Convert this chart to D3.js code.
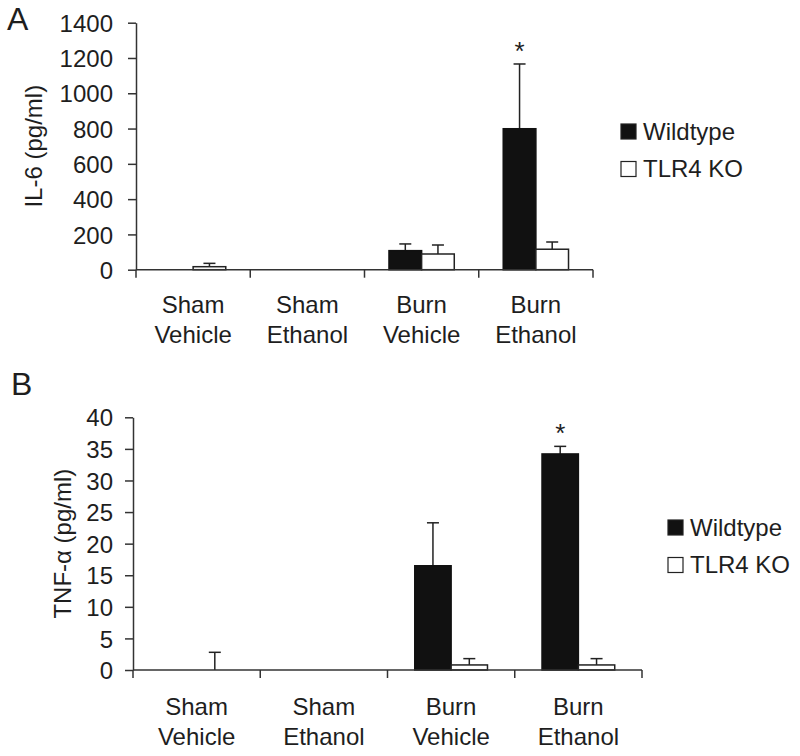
<!DOCTYPE html>
<html><head><meta charset="utf-8">
<script src="https://cdn.jsdelivr.net/npm/d3@7"></script>
<style>body{margin:0;background:#fff}svg{display:block}text{font-family:"Liberation Sans",Arial,sans-serif;fill:#1e1e1e}</style>
</head><body>
<svg id="c" width="800" height="756"></svg>
<script>
const categories = ["Sham\nVehicle", "Sham\nEthanol", "Burn\nVehicle", "Burn\nEthanol"];
const series = ["Wildtype", "TLR4 KO"];
// Panel A: IL-6 (pg/ml)
const il6Wildtype = [0, 0, 108, 799];
const il6WildtypeErr = [0, 0, 38, 367];
const il6KO = [17, 0, 89, 116];
const il6KOErr = [19, 0, 51, 41];
const il6Ticks = [0, 200, 400, 600, 800, 1000, 1200, 1400];
const il6Sig = [false, false, false, true];
// Panel B: TNF-alpha (pg/ml)
const tnfWildtype = [0, 0, 16.5, 34.2];
const tnfWildtypeErr = [0, 0, 6.8, 1.2];
const tnfKO = [0, 0, 0.8, 0.8];
const tnfKOErr = [2.8, 0, 1.0, 1.0];
const tnfTicks = [0, 5, 10, 15, 20, 25, 30, 35, 40];
const tnfSig = [false, false, false, true];

const svg = d3.select("#c");
const ink = "#1e1e1e";

function panel(o) {
  const g = svg.append("g");
  const x = d3.scaleBand().domain(categories).range([o.x0, o.x1]).padding(0);
  const xs = d3.scaleBand().domain(series).range([0, x.bandwidth()]).paddingInner(0).paddingOuter(0.75);
  const y = d3.scaleLinear().domain([0, o.max]).range([o.y0, o.y1]);

  // y axis
  const ya = g.append("g").attr("transform", `translate(${o.x0},0)`)
    .call(d3.axisLeft(y).tickValues(o.ticks).tickFormat(d3.format("d")).tickSize(8).tickSizeOuter(0).tickPadding(o.pad));
  ya.selectAll("path,line").attr("stroke", "#333").attr("stroke-width", 1.5);
  ya.selectAll("text").style("font-size", "24px").attr("fill", ink).attr("dy", "0.36em");

  // bars
  const data = [];
  categories.forEach((c, i) => {
    data.push({c, s: series[0], v: o.wt[i], e: o.wtErr[i]});
    data.push({c, s: series[1], v: o.ko[i], e: o.koErr[i]});
  });
  const eb = g.append("g").attr("stroke", "#222").attr("stroke-width", 1.5);
  data.filter(d => d.e > 0).forEach(d => {
    const cx = x(d.c) + xs(d.s) + xs.bandwidth() / 2;
    eb.append("line").attr("x1", cx).attr("x2", cx).attr("y1", y(d.v)).attr("y2", y(d.v + d.e));
    eb.append("line").attr("x1", cx - 6).attr("x2", cx + 6).attr("y1", y(d.v + d.e)).attr("y2", y(d.v + d.e));
  });
  g.append("g").selectAll("rect").data(data).join("rect")
    .attr("x", d => x(d.c) + xs(d.s))
    .attr("width", xs.bandwidth())
    .attr("y", d => y(d.v))
    .attr("height", d => y(0) - y(d.v))
    .attr("fill", d => d.s === series[0] ? "#111" : "#fff")
    .attr("stroke", d => d.s === series[0] ? "#111" : "#222")
    .attr("stroke-width", 1.5);

  // x axis line with boundary ticks
  const xa = g.append("g").attr("stroke", "#333").attr("stroke-width", 1.5);
  xa.append("line").attr("x1", o.x0).attr("x2", o.x1).attr("y1", y(0)).attr("y2", y(0));
  const bounds = categories.map(c => x(c)).concat([x(categories[categories.length - 1]) + x.bandwidth()]);
  bounds.forEach(b => xa.append("line").attr("x1", b).attr("x2", b).attr("y1", y(0)).attr("y2", y(0) + 8));

  // category labels
  categories.forEach(c => {
    const t = g.append("text").attr("text-anchor", "middle").style("font-size", "24px")
      .attr("x", x(c) + x.bandwidth() / 2).attr("y", o.labY);
    c.split("\n").forEach((ln, k) => t.append("tspan").attr("x", x(c) + x.bandwidth() / 2).attr("dy", k ? 30 : 0).text(ln));
  });

  // significance
  o.sig.forEach((s, i) => {
    if (!s) return;
    const c = categories[i];
    const cx = x(c) + xs(series[0]) + xs.bandwidth() / 2;
    g.append("text").attr("text-anchor", "middle").style("font-size", "26px")
      .attr("x", cx).attr("y", y(o.wt[i] + o.wtErr[i]) - 4).text("*");
  });

  // y label
  g.append("text").attr("transform", `translate(${o.ylx},${(o.y0 + o.y1) / 2}) rotate(-90)`)
    .attr("text-anchor", "middle").attr("dy", "0.36em").style("font-size", "24px").text(o.ylabel);

  // panel letter
  g.append("text").attr("x", o.letX).attr("y", o.letY).style("font-size", "32px").text(o.letter);

  // legend
  series.forEach((s, k) => {
    const ly = o.legY + k * 37.5;
    g.append("rect").attr("x", o.legX).attr("y", ly - 15).attr("width", 15).attr("height", 15)
      .attr("fill", k ? "#fff" : "#111").attr("stroke", "#222").attr("stroke-width", 1.2);
    g.append("text").attr("x", o.legX + 22).attr("y", ly + 0.5).style("font-size", "24px").text(s);
  });
}

panel({x0: 136, x1: 593, y0: 269.7, y1: 22.7, max: 1400, ticks: il6Ticks, pad: 15,
  wt: il6Wildtype, wtErr: il6WildtypeErr, ko: il6KO, koErr: il6KOErr, sig: il6Sig,
  labY: 313, ylx: 33, ylabel: "IL-6 (pg/ml)", letter: "A", letX: 7, letY: 30,
  legX: 621, legY: 139});

panel({x0: 133, x1: 642, y0: 670, y1: 417.3, max: 40, ticks: tnfTicks, pad: 12,
  wt: tnfWildtype, wtErr: tnfWildtypeErr, ko: tnfKO, koErr: tnfKOErr, sig: tnfSig,
  labY: 715, ylx: 62, ylabel: "TNF-α (pg/ml)", letter: "B", letX: 11, letY: 395,
  legX: 668, legY: 535});
</script>
</body></html>
